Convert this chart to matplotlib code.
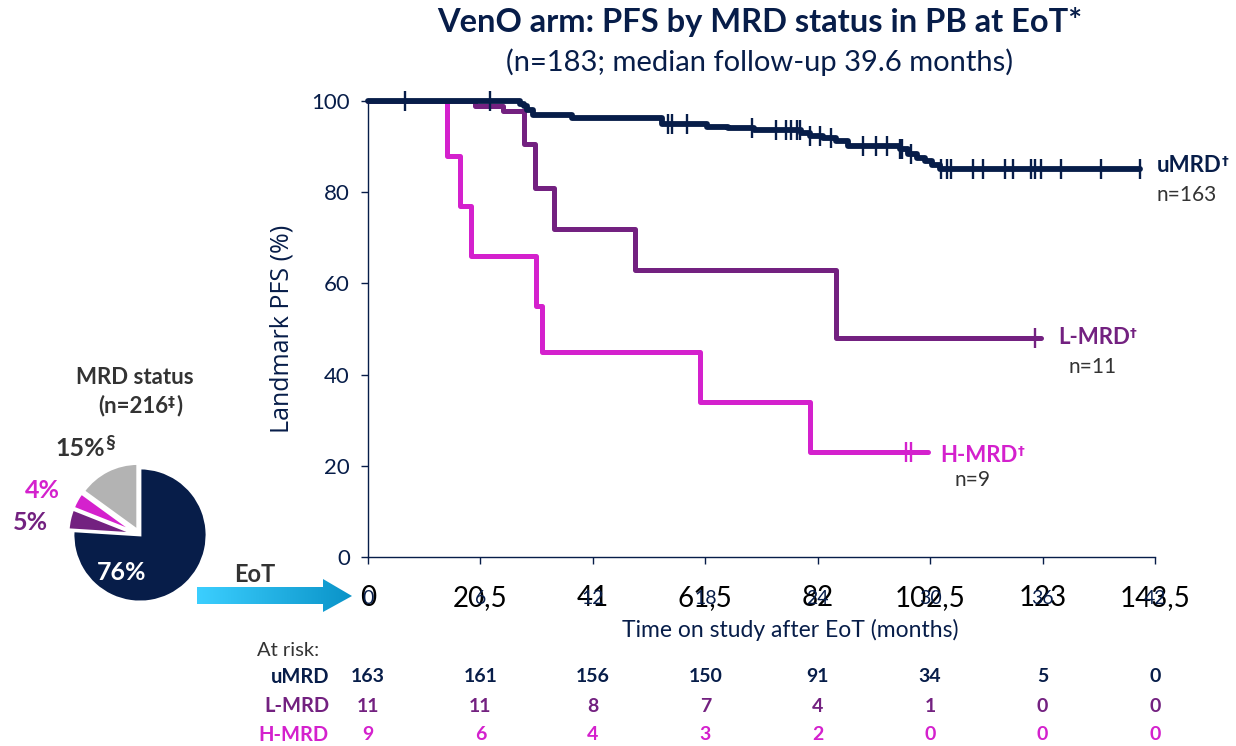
import numpy as np
import matplotlib
matplotlib.use('Agg')
import matplotlib.pyplot as plt
from matplotlib.patches import Polygon
from matplotlib.colors import LinearSegmentedColormap
from matplotlib.transforms import blended_transform_factory

plt.rcParams['font.family'] = ['Lato', 'DejaVu Sans']

NAVY = '#071d49'
PURPLE = '#732180'
MAGENTA = '#d421cd'
GREY = '#b3b3b3'
DARK = '#333333'

# x axis (months) and the odd big labels sitting on top of them
month_ticks = [0, 6, 12, 18, 24, 30, 36, 42]
big_tick_labels = ['0', '20,5', '41', '61,5', '82', '102,5', '123', '143,5']
y_ticks = [0, 20, 40, 60, 80, 100]

# KM steps
umrd_t = [0, 8.1, 8.3, 8.5, 8.8, 10.9, 15.7, 18.1, 19.2, 20.6, 23.1, 23.6, 24.3, 25.0, 25.6,
          28.4, 28.8, 29.3, 29.7, 30.1, 30.5]
umrd_s = [100, 99.4, 98.8, 98.1, 97.0, 96.3, 95.0, 94.4, 94.0, 93.6, 93.0, 92.4, 91.8, 91.2, 90.1,
          89.4, 88.4, 87.6, 86.8, 85.9, 85.1]
umrd_end = 41.2
umrd_cens = [2.0, 6.5, 16.0, 16.2, 17.0, 20.5, 21.8, 22.3, 22.6, 22.9, 23.05, 23.6, 24.1, 24.7,
             26.4, 27.1, 27.7, 28.4, 28.5, 29.0, 30.6, 30.9, 31.1, 32.3, 32.8, 34.0, 34.4, 35.4,
             35.6, 35.9, 37.0, 39.1, 41.2]

lmrd_t = [0, 5.7, 7.2, 8.3, 8.9, 9.9, 14.25, 25.0]
lmrd_s = [100, 99.0, 97.9, 90.5, 81.0, 72.0, 63.0, 48.0]
lmrd_end = 35.9
lmrd_cens = [35.6]

hmrd_t = [0, 4.2, 4.9, 5.5, 8.97, 9.3, 17.7, 23.6]
hmrd_s = [100, 88.0, 77.0, 66.0, 55.0, 45.0, 34.0, 23.0]
hmrd_end = 29.9
hmrd_cens = [28.7, 29.0]

# at risk table
risk_groups = ['uMRD', 'L-MRD', 'H-MRD']
risk_umrd = [163, 161, 156, 150, 91, 34, 5, 0]
risk_lmrd = [11, 11, 8, 7, 4, 1, 0, 0]
risk_hmrd = [9, 6, 4, 3, 2, 0, 0, 0]

# pie
pie_labels = ['uMRD', 'L-MRD', 'H-MRD', 'missing']
pie_vals = [76, 5, 4, 15]

W, H = 1236, 746
fig = plt.figure(figsize=(W / 100, H / 100), dpi=100)

x0, x1, y0, y1 = 368, 1155, 557, 101
ax = fig.add_axes([x0 / W, (H - y0) / H, (x1 - x0) / W, (y0 - y1) / H])
ax.patch.set_alpha(0)

# pie
cx, cy, r = 140, 535, 72
pax = fig.add_axes([(cx - r) / W, (H - cy - r) / H, 2 * r / W, 2 * r / H])
pax.pie(pie_vals, colors=[NAVY, PURPLE, MAGENTA, GREY], startangle=90, counterclock=False,
        radius=0.93, explode=[0, 0.07, 0.07, 0.07],
        wedgeprops=dict(edgecolor='white', linewidth=2))
pax.set_xlim(-1.0, 1.0)
pax.set_ylim(-1.0, 1.0)
pax.set_aspect('auto')

# overlay in pixel coords for free text / arrow
ov = fig.add_axes([0, 0, 1, 1])
ov.set_zorder(10)
ov.patch.set_alpha(0)
ov.axis('off')


def km(t, s, end, cens, color, lw):
    tt = list(t) + [end]
    ss = list(s) + [s[-1]]
    ax.step(tt, ss, where='post', color=color, lw=lw, solid_joinstyle='round',
            solid_capstyle='round', clip_on=False, zorder=4)
    idx = np.searchsorted(t, cens, side='right') - 1
    cy_ = np.array(s)[idx]
    ax.plot(cens, cy_, ls='none', marker='|', ms=14, mew=1.7, color=color, clip_on=False, zorder=5)


km(hmrd_t, hmrd_s, hmrd_end, hmrd_cens, MAGENTA, 3.6)
km(lmrd_t, lmrd_s, lmrd_end, lmrd_cens, PURPLE, 3.6)
km(umrd_t, umrd_s, umrd_end, umrd_cens, NAVY, 4.2)

ax.set_xlim(0, 42)
ax.set_ylim(0, 100)
ax.set_xticks(month_ticks)
ax.set_yticks(y_ticks)
for sp in ['top', 'right']:
    ax.spines[sp].set_visible(False)
for sp in ['left', 'bottom']:
    ax.spines[sp].set_color(NAVY)
    ax.spines[sp].set_linewidth(1.0)
ax.tick_params(axis='y', colors=NAVY, labelsize=16, length=5, width=1, pad=8)
ax.tick_params(axis='x', colors=NAVY, labelsize=14, length=5, width=1, pad=19)
for lab in ax.get_xticklabels():
    lab.set_zorder(6)
ax.set_ylabel('Landmark PFS (%)', color=NAVY, fontsize=18, labelpad=12, family=['Open Sans'])

trans = blended_transform_factory(ax.transData, ax.transAxes)
for m, lab in zip(month_ticks, big_tick_labels):
    ax.text(m, -(598 - y0) / (y0 - y1), lab, transform=trans, ha='center', va='center',
            fontsize=20, color='black', zorder=0, clip_on=False)

# keep overlay in pixel coords
ov.set_xlim(0, W)
ov.set_ylim(H, 0)

ov.text(790, 630, 'Time on study after EoT (months)', ha='center', va='center',
        fontsize=16.5, color=NAVY)


# curve end labels
def sup_label(x, y, txt, color, size=16, sup='\u2020'):
    t = ov.text(x, y, txt, ha='left', va='center', fontsize=size, fontweight='bold', color=color)
    ov.annotate(sup, xy=(1.0, 1.0), xycoords=t, ha='left', va='top', fontsize=size * 0.6,
                fontweight='bold', color=color, family=['DejaVu Sans'])
    return t


sup_label(1157, 165, 'uMRD', NAVY)
ov.text(1157, 195, 'n=163', ha='left', va='center', fontsize=15, color=DARK)
sup_label(1058, 338, 'L-MRD', PURPLE)
ov.text(1068, 367, 'n=11', ha='left', va='center', fontsize=15, color=DARK)
sup_label(940, 455, 'H-MRD', MAGENTA)
ov.text(955, 480, 'n=9', ha='left', va='center', fontsize=15, color=DARK)

# titles
ov.text(760, 22, 'VenO arm: PFS by MRD status in PB at EoT*', ha='center', va='center',
        fontsize=23.5, fontweight='bold', color=NAVY)
ov.text(760, 62, '(n=183; median follow-up 39.6 months)', ha='center', va='center',
        fontsize=21, color=NAVY)

# at risk
ov.text(257, 650, 'At risk:', ha='left', va='center', fontsize=14.5, color=DARK)
row_y = [677, 706, 735]
row_c = [NAVY, PURPLE, MAGENTA]
for name, vals, yy, c in zip(risk_groups, [risk_umrd, risk_lmrd, risk_hmrd], row_y, row_c):
    ov.text(329, yy, name, ha='right', va='center', fontsize=14.5, fontweight='bold', color=c)
    for m, v in zip(month_ticks, vals):
        xp = ax.transData.transform((m, 0))[0]
        ov.text(xp, yy, str(v), ha='center', va='center', fontsize=14, fontweight='bold', color=c)

# pie labels
ov.text(122, 572, '76%', ha='center', va='center', fontsize=18, fontweight='bold', color='white')
ov.text(30, 522, '5%', ha='center', va='center', fontsize=18, fontweight='bold', color=PURPLE)
ov.text(42, 490, '4%', ha='center', va='center', fontsize=18, fontweight='bold', color=MAGENTA)
t15 = ov.text(80, 448, '15%', ha='center', va='center', fontsize=18, fontweight='bold', color=DARK)
ov.annotate('\u00a7', xy=(1.0, 1.08), xycoords=t15, ha='left', va='top', fontsize=14,
            fontweight='bold', color=DARK)
ov.text(135, 378, 'MRD status', ha='center', va='center', fontsize=16, fontweight='bold', color=DARK)
tn = ov.text(168, 406, '(n=216', ha='right', va='center', fontsize=16, fontweight='bold', color=DARK)
ov.annotate('\u2021', xy=(1.0, 1.0), xycoords=tn, ha='left', va='top', fontsize=10,
            fontweight='bold', color=DARK, family=['DejaVu Sans'])
ov.annotate(')', xy=(1.0, 0.0), xycoords=tn, xytext=(6, 0), textcoords='offset points',
            ha='left', va='bottom', fontsize=16, fontweight='bold', color=DARK)

# EoT arrow with gradient fill
arrow = Polygon([[197, 587], [323, 587], [323, 579], [352, 596], [323, 612], [323, 604], [197, 604]],
                closed=True, facecolor='none', edgecolor='none')
ov.add_patch(arrow)
grad = np.linspace(0, 1, 256).reshape(1, -1)
cmap = LinearSegmentedColormap.from_list('eot', ['#3ccfff', '#0a93c8'])
im = ov.imshow(grad, extent=[197, 352, 612, 579], cmap=cmap, aspect='auto', zorder=2)
im.set_clip_path(arrow)
ov.set_xlim(0, W)
ov.set_ylim(H, 0)
ov.text(255, 575, 'EoT', ha='center', va='center', fontsize=17, fontweight='bold', color=DARK)

fig.savefig('out.png', dpi=100)
